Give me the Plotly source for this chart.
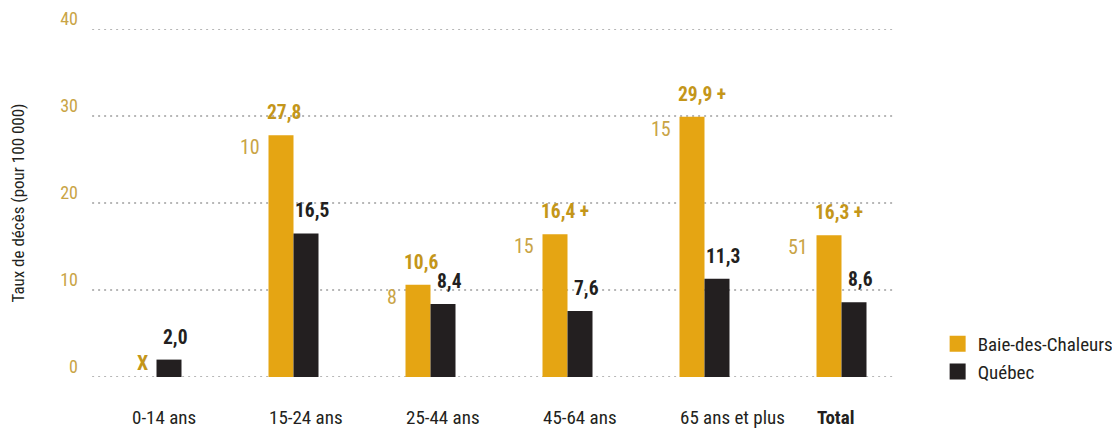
import plotly.graph_objects as go

# ---- data ----
categories = ["0-14 ans", "15-24 ans", "25-44 ans", "45-64 ans", "65 ans et plus", "Total"]
category_labels = ["0-14 ans", "15-24 ans", "25-44 ans", "45-64 ans", "65 ans et plus", "<b>Total</b>"]
bdc_values = [None, 27.8, 10.6, 16.4, 29.9, 16.3]
qc_values = [2.0, 16.5, 8.4, 7.6, 11.3, 8.6]
bdc_labels = ["X", "27,8", "10,6", "16,4 +", "29,9 +", "16,3 +"]
qc_labels = ["2,0", "16,5", "8,4", "7,6", "11,3", "8,6"]
bdc_counts = [None, "10", "8", "15", "15", "51"]
y_ticks = [0, 10, 20, 30, 40]

# ---- style ----
FONT = "Roboto Condensed, Liberation Sans Narrow, DejaVu Sans Condensed, sans-serif"
ORANGE = "#E5A513"
DARK = "#231F20"
GOLD_TXT = "#C4961A"
GOLD_TICK = "#C9A445"
GRID = "#A0A0A0"
HALF = 12.5  # half bar width in px

fig = go.Figure()
fig.add_trace(go.Bar(x=categories, y=bdc_values, name="Baie-des-Chaleurs",
                     marker=dict(color=ORANGE, line=dict(width=0)), showlegend=False,
                     hoverinfo="skip"))
fig.add_trace(go.Bar(x=categories, y=qc_values, name="Québec",
                     marker=dict(color=DARK, line=dict(width=0)), showlegend=False,
                     hoverinfo="skip"))
# legend proxies (bigger squares)
for nm, col in [("Baie-des-Chaleurs", ORANGE), ("Québec", DARK)]:
    fig.add_trace(go.Scatter(x=[None], y=[None], mode="markers", name=nm,
                             marker=dict(symbol="square", size=16, color=col)))

ann = []
for cat, v, lab, cnt in zip(categories, bdc_values, bdc_labels, bdc_counts):
    if v is None:
        ann.append(dict(x=cat, y=0, text=f"<b>{lab}</b>", showarrow=False, xshift=-HALF - 2,
                        yanchor="bottom", yshift=0, font=dict(family=FONT, size=20, color=GOLD_TXT)))
    else:
        ann.append(dict(x=cat, y=v, text=f"<b>{lab}</b>", showarrow=False, xanchor="left",
                        xshift=-HALF - 16, yanchor="bottom", yshift=9,
                        font=dict(family=FONT, size=19.5, color=GOLD_TXT)))
    if cnt is not None:
        ann.append(dict(x=cat, y=v, text=cnt, showarrow=False, xanchor="right",
                        xshift=-2 * HALF - 7, yanchor="middle", yshift=-12,
                        font=dict(family=FONT, size=20, color=GOLD_TICK)))
for cat, v, lab in zip(categories, qc_values, qc_labels):
    ann.append(dict(x=cat, y=v, text=f"<b>{lab}</b>", showarrow=False, xanchor="center",
                    xshift=HALF + 6, yanchor="bottom", yshift=9,
                    font=dict(family=FONT, size=19.5, color=DARK)))
# category labels (left-aligned on the group)
for cat, lab in zip(categories, category_labels):
    ann.append(dict(x=cat, y=0, yref="paper", text=lab, showarrow=False, xanchor="left",
                    xshift=-2 * HALF - 2, yanchor="top", yshift=-27,
                    font=dict(family=FONT, size=19, color=DARK)))

shapes = [dict(type="line", xref="paper", yref="y", x0=0.005, x1=0.982, y0=t, y1=t,
               line=dict(color=GRID, width=1.5, dash="2px,4px"), layer="below") for t in y_ticks]

fig.update_layout(
    width=1112, height=426,
    margin=dict(l=80, r=210, t=21, b=57, autoexpand=False),
    paper_bgcolor="white", plot_bgcolor="white",
    barmode="group", bargap=0.635, bargroupgap=0,
    font=dict(family=FONT, color=DARK),
    annotations=ann, shapes=shapes,
    legend=dict(xref="container", yref="container", x=0.836, xanchor="left", y=0.256, yanchor="top",
                font=dict(family=FONT, size=19, color=DARK),
                bgcolor="rgba(0,0,0,0)", borderwidth=0, tracegroupgap=0),
    xaxis=dict(type="category", range=[-0.5, 5.5], showticklabels=False, showgrid=False,
               zeroline=False, showline=False, ticks=""),
    yaxis=dict(range=[0, 40], tickvals=y_ticks, showgrid=False, zeroline=False, showline=False,
               ticks="", tickfont=dict(family=FONT, size=18, color=GOLD_TICK),
               ticklabelshift=-10, ticklabelstandoff=9,
               title=dict(text="Taux de décès (pour 100 000)", standoff=34,
                          font=dict(family=FONT, size=17, color=DARK))),
)

fig.write_html("out.html")
